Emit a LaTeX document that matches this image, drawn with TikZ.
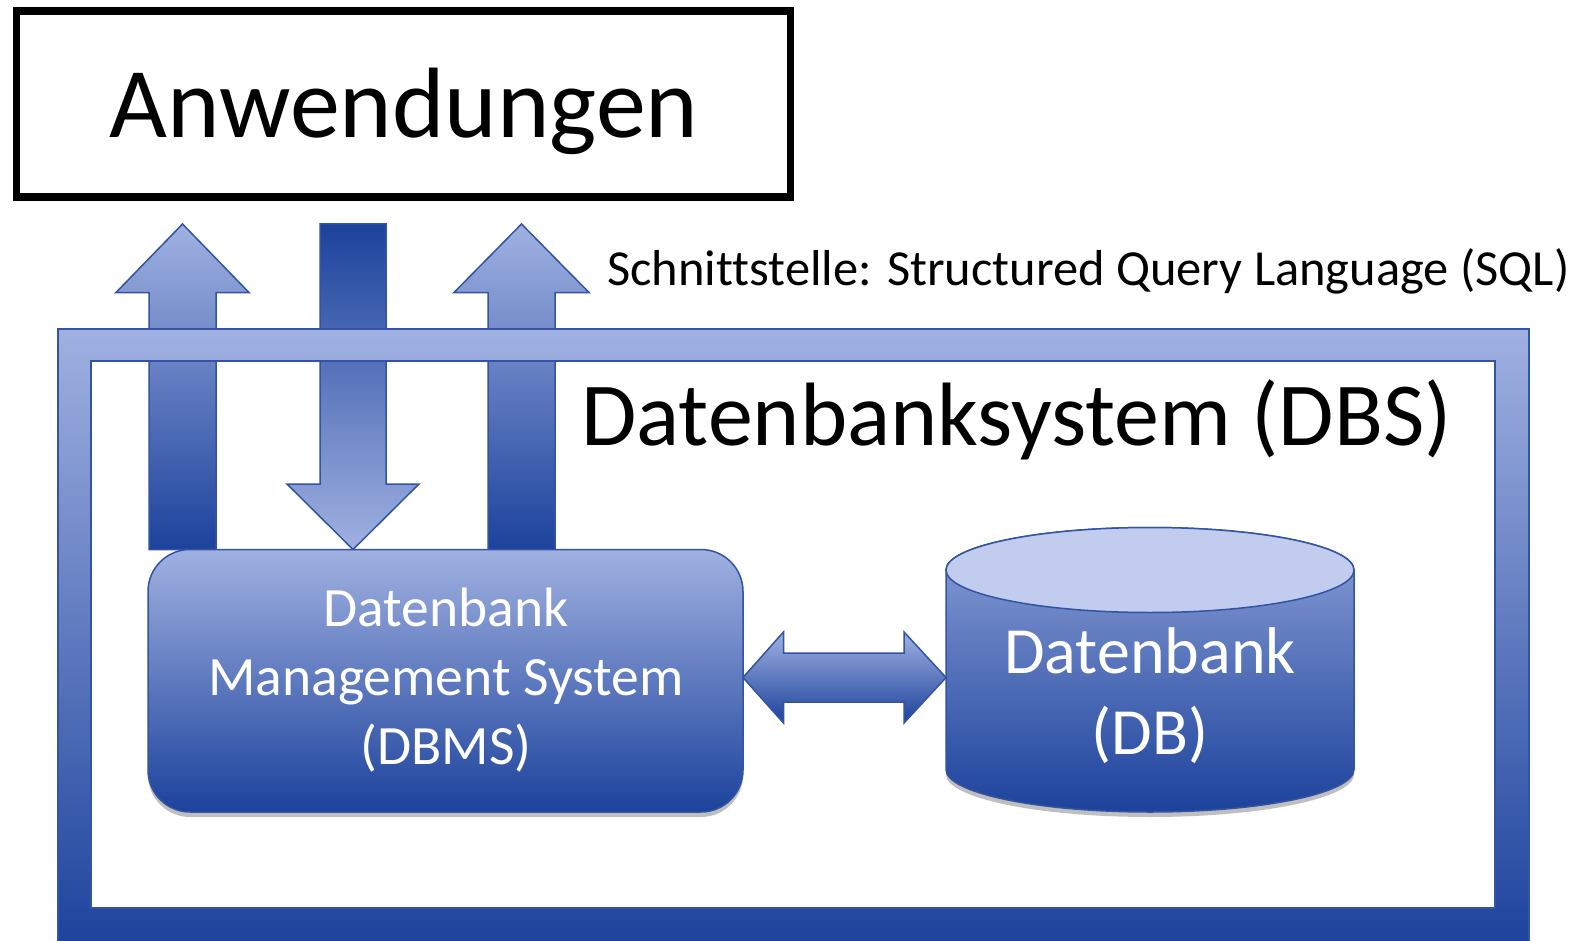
\documentclass[tikz,border=0pt]{standalone}
\usepackage{fontspec}
\setmainfont{Carlito}[Ligatures=NoCommon]
\usetikzlibrary{shadows}
\definecolor{lb}{RGB}{160,177,225}
\definecolor{db}{RGB}{28,66,156}
\definecolor{ol}{RGB}{50,84,162}
\definecolor{ell}{RGB}{193,204,238}
\tikzset{
  uparrow/.style={draw=ol, line width=1.5pt, top color=lb, middle color=lb!75!db, bottom color=db},
  downarrow/.style={draw=ol, line width=1.5pt, top color=db, middle color=lb!70!db, bottom color=lb},
  framering/.style={draw=ol, line width=1.5pt, top color=lb, bottom color=db, even odd rule},
  bluebody/.style={draw=ol, line width=1.5pt, top color=lb, bottom color=db,
    drop shadow={shadow xshift=0pt, shadow yshift=-5pt, opacity=0.25, fill=black}},
  whitetext/.style={text=white, align=center, inner sep=0pt},
  blacktext/.style={text=black, inner sep=0pt}
}
\begin{document}
\begin{tikzpicture}[x=1pt,y=-1pt]
\useasboundingbox (0,0) rectangle (1581,941);
\fill[white] (0,0) rectangle (1581,941);

% Anwendungen box
\node[draw=black, line width=7.5pt, minimum width=774pt, minimum height=186pt, inner sep=0pt] (app) at (403.5,104) {};
\node[blacktext, anchor=base, font=\fontsize{100}{120}\selectfont] (apptext) at (404,138) {Anwendungen};

% Interface label
\node[blacktext, anchor=base west, font=\fontsize{50.5}{60}\selectfont] (sql) at (607,285) {Schnittstelle: Structured Query Language (SQL)};

% arrows
\path[uparrow] (149,549.5) -- (149,292.5) -- (116,292.5) -- (182.5,224) -- (249,292.5) -- (216,292.5) -- (216,549.5) -- cycle;
\path[downarrow] (320,224) -- (386,224) -- (386,484) -- (419,484) -- (353,549.5) -- (287,484) -- (320,484) -- cycle;
\path[uparrow] (488,549.5) -- (488,292.5) -- (454,292.5) -- (521.5,224) -- (589,292.5) -- (555,292.5) -- (555,549.5) -- cycle;

% DBS frame
\path[framering] (58,329) rectangle (1529,948) (91,361) rectangle (1495,908);
\node[blacktext, anchor=base west, font=\fontsize{90}{100}\selectfont] (dbs) at (581,445) {Datenbanksystem (DBS)};

% DBMS box
\path[bluebody, rounded corners=42pt] (148,549.5) rectangle (743,812);
\node[whitetext, font=\fontsize{55.5}{69}\selectfont] (dbms) at (446,680) {Datenbank\\Management System\\(DBMS)};

% double arrow
\path[draw=ol, line width=1.5pt, top color=lb, bottom color=db]
  (743,677.5) -- (783.5,632) -- (783.5,653) -- (904,653) -- (904,632) -- (946,677.5)
  -- (904,723) -- (904,702) -- (783.5,702) -- (783.5,723) -- cycle;

% cylinder
\path[bluebody, top color=lb!85!db] (946,570) -- (946,769.5) arc[start angle=180, end angle=360, x radius=204pt, y radius=42.5pt]
  -- (1354,570) arc[start angle=0, end angle=180, x radius=204pt, y radius=42.5pt] -- cycle;
\path[draw=ol, line width=1.5pt, fill=ell] (1150,570) ellipse [x radius=204pt, y radius=42.5pt];
\node[whitetext, font=\fontsize{66}{81}\selectfont] (db) at (1150,696) {Datenbank\\(DB)};
\end{tikzpicture}
\end{document}
